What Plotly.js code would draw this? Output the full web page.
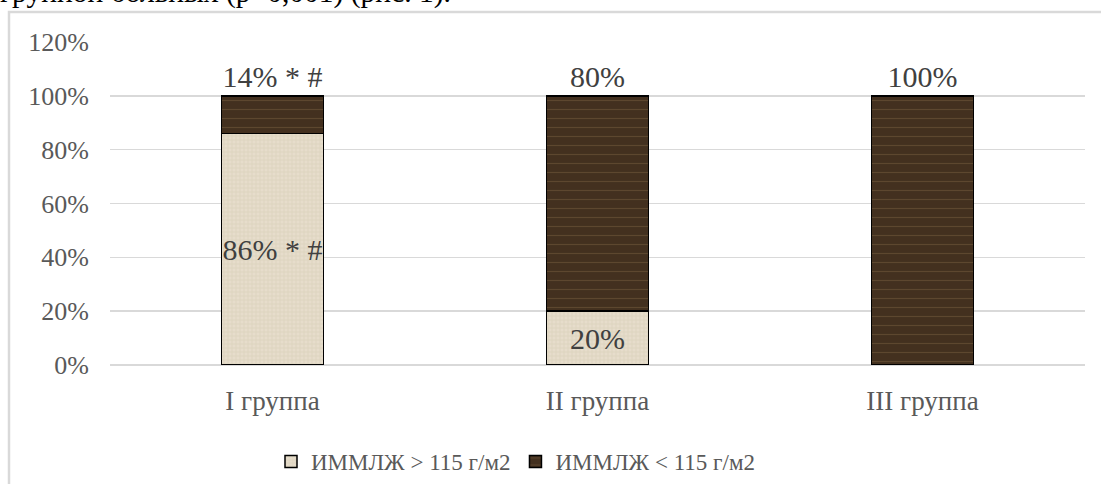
<!DOCTYPE html>
<html>
<head>
<meta charset="utf-8">
<script src="https://cdn.plot.ly/plotly-3.0.1.min.js"></script>
<style>
html,body{margin:0;padding:0;background:#fff;}
#chart{width:1101px;height:484px;}
</style>
</head>
<body>
<div id="chart"></div>
<script>
const categories = ["I группа", "II группа", "III группа"];
const seriesNames = ["ИММЛЖ > 115 г/м2", "ИММЛЖ < 115 г/м2"];
const highValues = [86, 20, 0];
const lowValues = [14, 80, 100];
const highLabels = ["86% * #", "20%", ""];
const lowLabels = ["14% * #", "80%", "100%"];
const yTickValues = [0, 20, 40, 60, 80, 100, 120];
const yTickLabels = ["0%", "20%", "40%", "60%", "80%", "100%", "120%"];
const headerText = "группой больных (p<0,001) (рис. 1).";

const serif = "Times New Roman, Liberation Serif, serif";

const traces = [
  {
    type: "bar",
    name: seriesNames[0],
    x: categories,
    y: highValues,
    text: highLabels,
    textposition: "inside",
    insidetextanchor: "middle",
    textangle: 0,
    constraintext: "none",
    cliponaxis: false,
    insidetextfont: {family: serif, size: 30, color: "#404040"},
    textfont: {family: serif, size: 30, color: "#404040"},
    hoverinfo: "skip",
    marker: {
      color: "#e6ddcb",
      line: {color: "#000", width: 1.5},
      pattern: {shape: "+", bgcolor: "#e6ddcb", fgcolor: "#c9bda3", fgopacity: 0.6, size: 4, solidity: 0.2}
    }
  },
  {
    type: "bar",
    name: seriesNames[1],
    x: categories,
    y: lowValues,
    text: lowLabels,
    textposition: "outside",
    textangle: 0,
    constraintext: "none",
    cliponaxis: false,
    outsidetextfont: {family: serif, size: 30, color: "#404040"},
    textfont: {family: serif, size: 30, color: "#404040"},
    hoverinfo: "skip",
    marker: {
      color: "#43301f",
      line: {color: "#000", width: 1.5},
      pattern: {shape: "-", bgcolor: "#43301f", fgcolor: "#6e5639", fgopacity: 0.6, size: 9, solidity: 0.12}
    }
  }
];

const L = 110, T = 42, W = 975, H = 323;
function px2x(p){ return (p - L) / W; }
function py2y(p){ return (T + H - p) / H; }

const layout = {
  width: 1101,
  height: 484,
  margin: {l: L, r: 1101 - L - W, t: T, b: 484 - T - H, pad: 0, autoexpand: false},
  paper_bgcolor: "#ffffff",
  plot_bgcolor: "#ffffff",
  barmode: "stack",
  bargap: 0.686,
  showlegend: true,
  font: {family: serif, color: "#595959", size: 24},
  xaxis: {
    type: "category",
    automargin: false,
    showgrid: false,
    zeroline: false,
    showline: false,
    ticks: "",
    tickfont: {family: serif, size: 27, color: "#595959"},
    ticklabelstandoff: 17,
    fixedrange: true
  },
  yaxis: {
    range: [0, 120],
    automargin: false,
    tickvals: yTickValues,
    ticktext: yTickLabels,
    showgrid: true,
    gridcolor: "#d9d9d9",
    gridwidth: 1.5,
    zeroline: true,
    zerolinecolor: "#d9d9d9",
    zerolinewidth: 1.5,
    showline: false,
    ticks: "",
    tickfont: {family: serif, size: 26, color: "#595959"},
    ticklabelstandoff: 20,
    fixedrange: true
  },
  legend: {
    orientation: "h",
    xref: "container",
    yref: "container",
    x: 271 / 1101,
    xanchor: "left",
    y: 1 - 440 / 484,
    yanchor: "top",
    font: {family: serif, size: 23, color: "#595959"},
    itemwidth: 30,
    traceorder: "normal",
    bgcolor: "rgba(0,0,0,0)"
  },
  shapes: [
    {
      type: "rect",
      xref: "paper", yref: "paper",
      x0: px2x(9), x1: px2x(1300),
      y0: py2y(600), y1: py2y(12),
      line: {color: "#d9d9d9", width: 2.5},
      fillcolor: "rgba(0,0,0,0)",
      layer: "below"
    }
  ],
  annotations: [
    {
      text: headerText,
      xref: "paper", yref: "paper",
      x: px2x(-2), xanchor: "left",
      y: py2y(-8), yanchor: "middle",
      showarrow: false,
      font: {family: serif, size: 29.5, color: "#000"}
    }
  ]
};

Plotly.newPlot("chart", traces, layout, {displayModeBar: false, staticPlot: true});
</script>
</body>
</html>
